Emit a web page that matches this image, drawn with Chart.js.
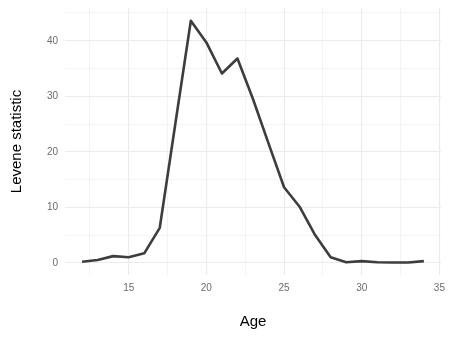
<!DOCTYPE html>
<html>
    <head>
        <title>Levene statistic by age</title>
        <script src="https://cdn.jsdelivr.net/npm/chart.js@4/dist/chart.umd.min.js"></script>
        <style>
            body { margin: 0; background: #fff; }
        </style>
    </head>
    <body>
        <canvas id="myChart" width="452" height="339"></canvas>
        <script>
            // data
            const ages = [12, 13, 14, 15, 16, 17, 18, 19, 20, 21, 22, 23, 24, 25, 26, 27, 28, 29, 30, 31, 32, 33, 34];
            const levene = [0.2, 0.5, 1.2, 1.0, 1.7, 6.3, 25.0, 43.6, 39.7, 34.1, 36.8, 29.5, 21.5, 13.6, 10.1, 5.0, 1.0, 0.1, 0.3, 0.1, 0.05, 0.05, 0.3];
            const xTicks = [12.5, 15, 17.5, 20, 22.5, 25, 27.5, 30, 32.5, 35];
            const yTicks = [0, 5, 10, 15, 20, 25, 30, 35, 40, 45];

            const font = "'Liberation Sans', Arial, sans-serif";
            let points = ages.map((a, i) => ({x: a, y: levene[i]}));

            let ctx = document.getElementById('myChart').getContext('2d');
            let chart = new Chart(ctx, {
                type: 'scatter',
                data: {
                    datasets: [{
                        data: points,
                        showLine: true,
                        borderColor: '#3d3d3d',
                        borderWidth: 2.6,
                        borderJoinStyle: 'round',
                        pointRadius: 0,
                        tension: 0
                    }]
                },
                options: {
                    responsive: false,
                    animation: false,
                    devicePixelRatio: 1,
                    layout: { padding: { top: 8, right: 8, left: 0, bottom: 0 } },
                    plugins: { legend: { display: false }, tooltip: { enabled: false } },
                    scales: {
                        x: {
                            type: 'linear',
                            min: 10.9,
                            max: 35.1,
                            afterBuildTicks: (s) => { s.ticks = xTicks.map(v => ({value: v})); },
                            afterFit: (s) => { s.height = 64; },
                            border: { display: false },
                            grid: {
                                drawTicks: false,
                                color: '#ebebeb',
                                lineWidth: (c) => (c.tick && c.tick.value % 5 === 0) ? 1.1 : 0.55
                            },
                            ticks: {
                                autoSkip: false,
                                maxRotation: 0,
                                padding: 7,
                                color: '#6b6b6b',
                                font: { family: font, size: 10 },
                                callback: (v) => v % 5 === 0 ? v : ''
                            },
                            title: {
                                display: true,
                                text: 'Age',
                                color: '#000',
                                font: { family: font, size: 15 },
                                padding: { top: 0, bottom: 8 }
                            }
                        },
                        y: {
                            min: -2.2,
                            max: 45.9,
                            afterBuildTicks: (s) => { s.ticks = yTicks.map(v => ({value: v})); },
                            afterFit: (s) => {
                                s.width = 65;
                                s.paddingTop = 0;
                                s.paddingBottom = 0;
                            },
                            border: { display: false },
                            grid: {
                                drawTicks: false,
                                color: '#ebebeb',
                                lineWidth: (c) => (c.tick && c.tick.value % 10 === 0) ? 1.1 : 0.55
                            },
                            ticks: {
                                autoSkip: false,
                                padding: 7,
                                color: '#6b6b6b',
                                font: { family: font, size: 10 },
                                callback: (v) => v % 10 === 0 ? v : ''
                            },
                            title: {
                                display: true,
                                text: 'Levene statistic',
                                color: '#000',
                                font: { family: font, size: 15 },
                                padding: { top: 8, bottom: 0 }
                            }
                        }
                    }
                }
            });
        </script>
    </body>
</html>
